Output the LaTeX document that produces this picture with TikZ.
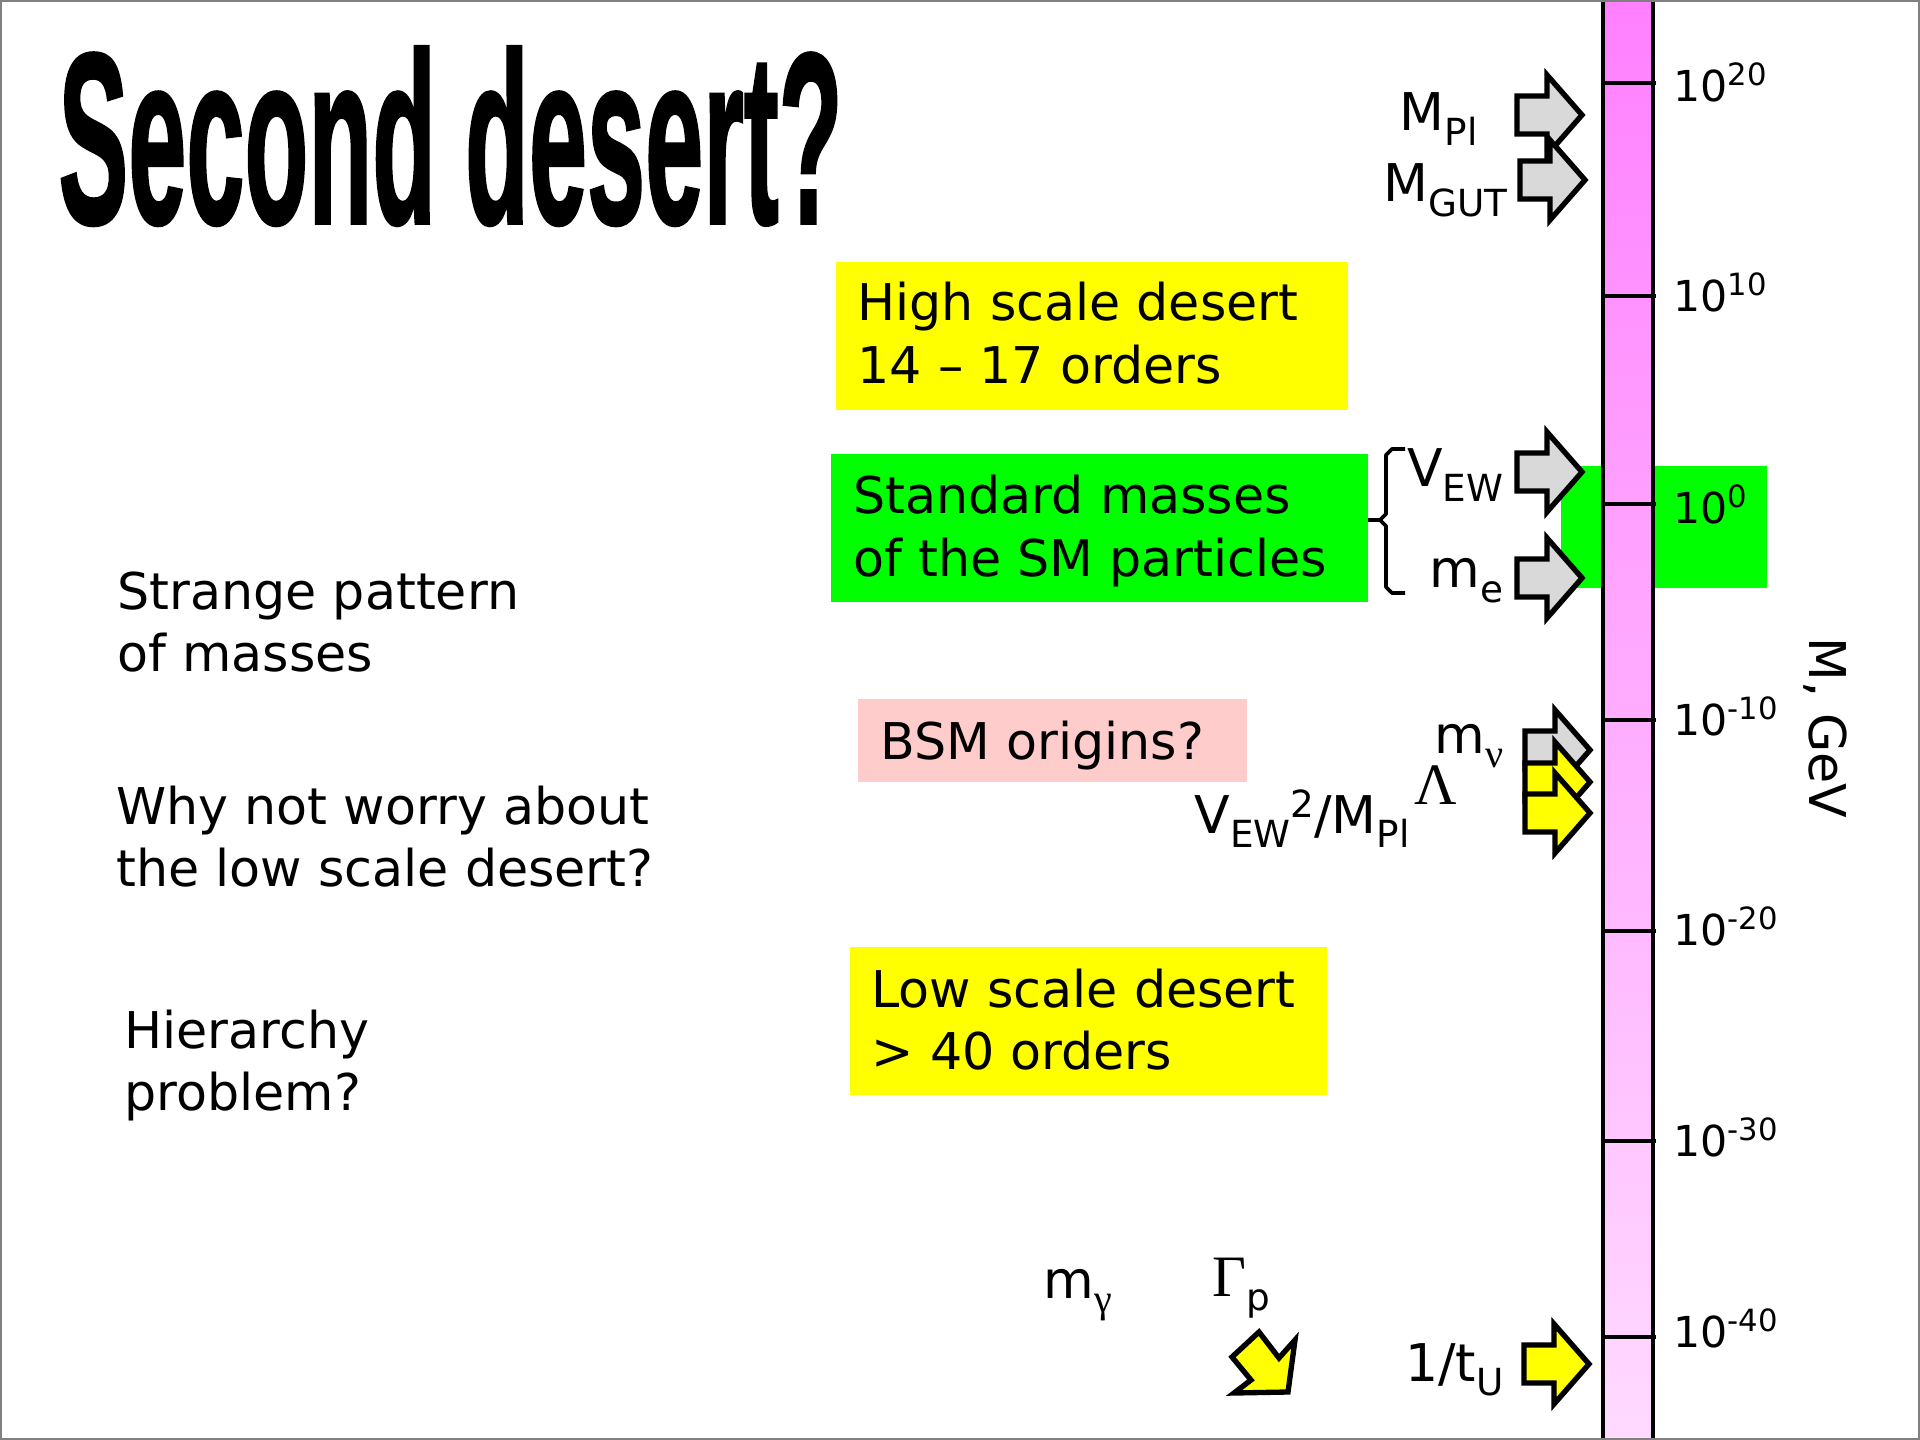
\documentclass[tikz,border=0pt]{standalone}
\usepackage{fontspec}
\usepackage{graphicx}
\setmainfont{DejaVu Sans}
\newfontfamily\titlefont{Liberation Sans}[BoldFeatures={FakeBold=1.5}]
\newfontfamily\grk{Liberation Serif}
\definecolor{barTop}{HTML}{FF80FF}
\definecolor{barBot}{HTML}{FFDAFF}
\definecolor{lgreen}{HTML}{00FF00}
\definecolor{yel}{HTML}{FFFF00}
\definecolor{pinkbox}{HTML}{FFCCCC}
\definecolor{arrgray}{HTML}{D9D9D9}
\newcommand\lo[1]{\raisebox{-0.28em}{\fontsize{14}{14}\selectfont #1}}
\newcommand\hi[1]{\raisebox{6pt}{\fontsize{11.5}{11.5}\selectfont #1}}
\newcommand\lines[1]{\begin{tabular}[t]{@{}l@{}}#1\end{tabular}}
\newcommand\blockarrow[3]{%
  \filldraw[blk, fill=#1] ({#2-65},{#3-19}) -- ({#2-35},{#3-19}) -- ({#2-35},{#3-40})
    -- (#2,#3) -- ({#2-35},{#3+40}) -- ({#2-35},{#3+19}) -- ({#2-65},{#3+19}) -- cycle;}
\tikzset{
  txt/.style={font=\fontsize{19}{23.6}\selectfont, inner sep=0pt, anchor=base west},
  lbl/.style={font=\fontsize{19.5}{20}\selectfont, inner sep=0pt, anchor=base east},
  scalelbl/.style={font=\fontsize{16}{16}\selectfont, inner sep=0pt, anchor=base west},
  blk/.style={draw=black, line width=2pt, line join=miter, miter limit=10},
  tickline/.style={line width=1.2pt},
  barline/.style={line width=1.6pt},
}
\begin{document}
\begin{tikzpicture}[x=0.375pt,y=-0.375pt]
\useasboundingbox (0,0) rectangle (1920,1440);
\fill[white] (0,0) rectangle (1920,1440);

% title
\node (title) [anchor=south west, inner sep=0pt] at (58,226)
  {\resizebox*{294pt}{67pt}{\titlefont\bfseries Second desert?}};

% coloured boxes
\fill[yel] (836,262) rectangle (1348,410);
\fill[lgreen] (831,454) rectangle (1368,602);
\fill[lgreen] (1561,466) rectangle (1767,588);
\fill[pinkbox] (858,699) rectangle (1247,782);
\fill[yel] (850,947) rectangle (1327,1095);

% scale bar
\shade[top color=barTop, bottom color=barBot] (1603,0) rectangle (1653,1440);
\draw[barline] (1603,0) -- (1603,1440);
\draw[barline] (1653,0) -- (1653,1440);
\foreach \yy in {83,296,504,720,931,1141,1337}
  \draw[tickline] (1603,\yy) -- (1656,\yy);

% scale labels
\node (s20) [scalelbl] at (1673,102) {10\hi{20}};
\node (s10) [scalelbl] at (1673,312) {10\hi{10}};
\node (s0) [scalelbl] at (1673,524) {10\hi{0}};
\node (sm10) [scalelbl] at (1673,735) {10\hi{-10}};
\node (sm20) [scalelbl] at (1673,945) {10\hi{-20}};
\node (sm30) [scalelbl] at (1673,1156) {10\hi{-30}};
\node (sm40) [scalelbl] at (1673,1347) {10\hi{-40}};
\node (axis) [font=\fontsize{19}{19}\selectfont, rotate=-90, inner sep=0pt] at (1825,728) {M, GeV};

% box texts
\node (hsd) [txt] at (857,321) {\lines{High scale desert\\14 -- 17 orders}};
\node (std) [txt] at (853,514) {\lines{Standard masses\\of the SM particles}};
\node (bsm) [txt] at (880,759) {BSM origins?};
\node (lsd) [txt] at (871,1007) {\lines{Low scale desert\\> 40 orders}};

% left texts
\node (strange) [txt] at (117,609) {\lines{Strange pattern\\of masses}};
\node (why) [txt] at (116,824) {\lines{Why not worry about\\the low scale desert?}};
\node (hier) [txt] at (124,1048) {\lines{Hierarchy\\problem?}};

% brace
\draw[line width=1.4pt, line join=round] (1405,449) -- (1392,449) -- (1386,455) -- (1386,514) -- (1380,520) -- (1368,520);
\draw[line width=1.4pt, line join=round] (1380,520) -- (1386,526) -- (1386,587) -- (1392,593) -- (1405,593);

% block arrows
\blockarrow{arrgray}{1582}{115}
\blockarrow{arrgray}{1585}{180}
\blockarrow{arrgray}{1582}{472}
\blockarrow{arrgray}{1582}{578}
\blockarrow{arrgray}{1590}{750}
\blockarrow{yel}{1590}{782}
\blockarrow{yel}{1590}{813}
\blockarrow{yel}{1589}{1364}
\filldraw[blk, fill=yel] (1259,1332) -- (1279,1358) -- (1295,1340) -- (1288,1392)
  -- (1234,1393) -- (1251,1380) -- (1232,1357) -- cycle;

% arrow labels
\node (mpl) [lbl] at (1478,131) {M\lo{Pl}};
\node (mgut) [lbl] at (1508,202) {M\lo{GUT}};
\node (vew) [lbl] at (1504,487) {V\lo{EW}};
\node (me) [lbl] at (1504,588) {m\lo{e}};
\node (mnu) [lbl] at (1504,753) {m\raisebox{-0.28em}{\grk\fontsize{15}{15}\selectfont ν}};
\node (lam) [lbl, anchor=base west, font=\grk\fontsize{22}{22}\selectfont] at (1414,804) {Λ};
\node (vew2) [lbl, anchor=base west] at (1194,833) {V\lo{EW}\hi{\fontsize{14}{14}\selectfont 2}/M\lo{Pl}};
\node (mgam) [lbl, anchor=base west] at (1043,1298) {m\raisebox{-0.28em}{\grk\fontsize{15}{15}\selectfont γ}};
\node (gamp) [lbl, anchor=base west] at (1212,1296) {{\grk\fontsize{22}{22}\selectfont Γ}\lo{p}};
\node (tu) [lbl] at (1504,1381) {1/t\lo{U}};

% frame
\draw[gray, line width=0.8pt] (1.2,1.2) rectangle (1918.8,1438.8);
\end{tikzpicture}
\end{document}
